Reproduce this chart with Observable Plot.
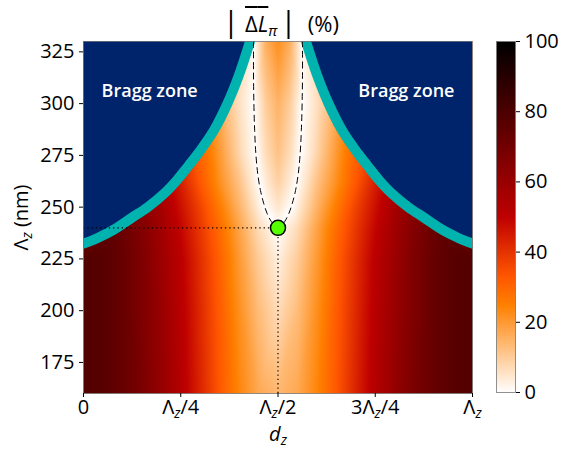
<!DOCTYPE html>
<html><head><meta charset="utf-8">
<script src="https://cdn.jsdelivr.net/npm/d3@7"></script>
<script src="https://cdn.jsdelivr.net/npm/@observablehq/plot@0.6"></script>
<style>
html,body{margin:0;padding:0;background:#fff;}
#wrap{position:relative;width:562px;height:449px;font-family:"Open Sans",sans-serif;overflow:hidden;color:#000}
#main{position:absolute;left:0;top:0}
#cbar{position:absolute;left:480px;top:0}
#title{position:absolute;top:0px;left:176px;width:210px;text-align:center;font-size:22px;line-height:47px;white-space:nowrap}
#title .bar{font-size:29px;line-height:20px}
#title .b1{margin-right:6px}
#title .b2{margin-left:3px}
#title .ov{text-decoration:overline;text-decoration-thickness:1.5px}
#title sub{font-size:15px;vertical-align:-4px;line-height:0}
</style></head><body>
<div id="wrap"><div id="main"></div><div id="cbar"></div>
<div id="title"><span class="bar b1">|</span><span class="ov">Δ<i>L</i></span><sub><i>π</i></sub><span class="bar b2">|</span>&nbsp;&nbsp;(%)</div>
</div>
<script>
// ---------- data ----------
const xTicks = [0, 0.25, 0.5, 0.75, 1];
const xTickLabels = ["0", "Λ_z/4", "Λ_z/2", "3Λ_z/4", "Λ_z"];
const yTicks = [175, 200, 225, 250, 275, 300, 325];
const cbTicks = [0, 20, 40, 60, 80, 100];

// Bragg zone boundary (Λz in nm vs d_z/Λz)
const braggY      = [232.4, 235, 239, 245, 250, 257, 263, 270, 276, 287, 300, 314, 330];
const braggLeftX  = [0, 0.035, 0.077, 0.125, 0.165, 0.21, 0.24, 0.27, 0.295, 0.335, 0.37, 0.40, 0.428];
const braggRightX = [1, 0.965, 0.923, 0.875, 0.835, 0.79, 0.76, 0.73, 0.705, 0.665, 0.63, 0.60, 0.572];

// zero contour (dashed)
const dashX = [0.437, 0.437, 0.438, 0.44, 0.443, 0.448, 0.455, 0.463, 0.472, 0.483, 0.495, 0.5,
               0.505, 0.517, 0.528, 0.537, 0.545, 0.552, 0.557, 0.56, 0.562, 0.563, 0.563];
const dashY = [330, 315, 300, 287, 276, 266, 258, 252, 247, 243, 240.5, 240,
               240.5, 243, 247, 252, 258, 266, 276, 287, 300, 315, 330];

// optimum point
const optX = [0.5];
const optY = [240];

// |ΔL| (%) sampled along rows of Λz
const heatRowY = [160, 200, 225, 240, 250, 262, 276, 300, 330];
const heatRowX = [
  [0,.05,.1,.15,.2,.25,.3,.35,.4,.45,.5,.55,.6,.65,.7,.75,.8,.85,.9,.95,1],
  [0,.05,.1,.15,.2,.25,.3,.35,.4,.45,.5,.55,.6,.65,.7,.75,.8,.85,.9,.95,1],
  [0,.05,.1,.15,.2,.25,.3,.35,.4,.45,.5,.55,.6,.65,.7,.75,.8,.85,.9,.95,1],
  [.08,.1,.15,.2,.25,.3,.35,.4,.45,.5,.55,.6,.65,.7,.75,.8,.85,.9,.92],
  [.16,.2,.25,.3,.35,.4,.43,.465,.5,.535,.57,.6,.65,.7,.75,.8,.84],
  [.23,.25,.3,.35,.4,.425,.452,.475,.5,.525,.548,.575,.6,.65,.7,.75,.77],
  [.29,.32,.35,.38,.41,.443,.47,.5,.53,.557,.59,.62,.65,.68,.71],
  [.37,.4,.438,.47,.5,.53,.562,.6,.63],
  [.425,.437,.47,.5,.53,.563,.575]
];
const heatRowV = [
  [78,77,73,68,61,53,43,33,24,17,14,17,24,33,43,53,61,68,73,77,78],
  [78,77,73,67,60,52,42,32,22,13,7,13,22,32,42,52,60,67,73,77,78],
  [78,77,73,67,59,51,41,31,20,10,3,10,20,31,41,51,59,67,73,77,78],
  [74,72,66,58,49,39,29,18,7,0,7,18,29,39,49,58,66,72,74],
  [62,57,47,37,26,15,8,0,5,0,8,15,26,37,47,57,62],
  [48,44,33,22,12,6,0,5,9,5,0,6,12,22,33,44,48],
  [32,27,20,13,6,0,7,12,7,0,6,13,20,27,32],
  [12,6,0,10,15,10,0,6,12],
  [4,0,16,22,16,0,4]
];

// ---------- tables ----------
const heat = heatRowY.flatMap((y, i) => heatRowX[i].map((x, j) => ({x, y, v: heatRowV[i][j]})));
const bragg = braggY.map((y, i) => ({y, xl: braggLeftX[i], xr: braggRightX[i]}));
const dash = dashX.map((x, i) => ({x, y: dashY[i]}));
const opt = optX.map((x, i) => ({x, y: optY[i]}));

const NAVY = "#00246b", TEAL = "#00b3ae";
const colorScale = {type: "linear", domain: [0, 25, 100/3, 50, 100],
  range: ["#ffffff", "#ff8000", "#ff5500", "#bf0000", "#000000"], interpolate: "rgb"};
const FS = 20;
const baseStyle = {fontFamily: "'Open Sans', sans-serif", fontSize: FS + "px", color: "black", background: "transparent", overflow: "visible"};

// rich text: *italic*, _x subscript (italic)
function rich(svg) {
  const ns = "http://www.w3.org/2000/svg";
  svg.querySelectorAll("text").forEach(t => {
    if (t.children.length) return;
    const s = t.textContent;
    if (!/[_*]/.test(s)) return;
    const base = parseFloat(getComputedStyle(t).fontSize) || FS;
    while (t.firstChild) t.removeChild(t.firstChild);
    let italic = false, buf = "", shift = 0;
    const flush = () => {
      if (!buf) return;
      const sp = document.createElementNS(ns, "tspan");
      sp.textContent = buf;
      if (italic) sp.setAttribute("font-style", "italic");
      if (shift) { sp.setAttribute("dy", -shift); shift = 0; }
      t.appendChild(sp); buf = "";
    };
    for (let k = 0; k < s.length; k++) {
      const c = s[k];
      if (c === "*") { flush(); italic = !italic; continue; }
      if (c === "_") {
        flush();
        const sp = document.createElementNS(ns, "tspan");
        sp.textContent = s[k + 1]; k++;
        sp.setAttribute("font-style", "italic");
        sp.setAttribute("font-size", base * 0.7);
        const d = base * 0.2;
        sp.setAttribute("dy", d); shift = d;
        t.appendChild(sp);
        continue;
      }
      buf += c;
    }
    flush();
  });
}

const main = Plot.plot({
  width: 480, height: 449,
  marginLeft: 83, marginRight: 8, marginTop: 41, marginBottom: 56,
  style: baseStyle,
  x: {domain: [0, 1]},
  y: {domain: [160, 330]},
  color: colorScale,
  marks: [
    Plot.raster(heat, {x: "x", y: "y", fill: "v", interpolate: "barycentric", x1: 0, x2: 1, y1: 160, y2: 330}),
    Plot.areaX(bragg, {y: "y", x1: 0, x2: "xl", fill: NAVY, curve: "catmull-rom", clip: true}),
    Plot.areaX(bragg, {y: "y", x1: "xr", x2: 1, fill: NAVY, curve: "catmull-rom", clip: true}),
    Plot.line(bragg, {x: "xl", y: "y", stroke: TEAL, strokeWidth: 10, curve: "catmull-rom", clip: true}),
    Plot.line(bragg, {x: "xr", y: "y", stroke: TEAL, strokeWidth: 10, curve: "catmull-rom", clip: true}),
    Plot.line(dash, {x: "x", y: "y", stroke: "black", strokeWidth: 1, strokeDasharray: "6,4.5", curve: "catmull-rom"}),
    Plot.ruleY(opt, {y: "y", x1: 0, x2: "x", stroke: "black", strokeWidth: 1.2, strokeDasharray: "1.3,3"}),
    Plot.ruleX(opt, {x: "x", y1: 160, y2: "y", stroke: "black", strokeWidth: 1.2, strokeDasharray: "1.3,3"}),
    Plot.dot(opt, {x: "x", y: "y", r: 7.5, fill: "#55ff00", stroke: "black", strokeWidth: 1.5}),
    Plot.text(["Bragg zone"], {x: 0.17, y: 306, fill: "white", fontWeight: 600, fontSize: 18}),
    Plot.text(["Bragg zone"], {x: 0.83, y: 306, fill: "white", fontWeight: 600, fontSize: 18}),
    Plot.frame({stroke: "#777", strokeWidth: 0.8}),
    Plot.axisX({ticks: xTicks, tickFormat: d => xTickLabels[xTicks.indexOf(d)], tickSize: 4, tickPadding: 2, label: null}),
    Plot.axisY({ticks: yTicks, tickSize: 4, tickPadding: 5, label: null}),
    Plot.text(["Λ_z (nm)"], {frameAnchor: "left", rotate: -90, dx: -62, textAnchor: "middle", lineAnchor: "middle", fontSize: FS}),
    Plot.text(["*d*_z"], {frameAnchor: "bottom", dy: 41, textAnchor: "middle", lineAnchor: "middle", fontSize: FS})
  ]
});
document.getElementById("main").appendChild(main);

const cbar = Plot.plot({
  width: 82, height: 449,
  marginLeft: 16, marginRight: 47, marginTop: 41, marginBottom: 57,
  style: baseStyle,
  x: {domain: [0, 1], axis: null},
  y: {domain: [0, 100]},
  color: colorScale,
  marks: [
    Plot.raster({fill: (x, y) => y, x1: 0, x2: 1, y1: 0, y2: 100}),
    Plot.frame({stroke: "#777", strokeWidth: 0.8}),
    Plot.axisY({anchor: "right", ticks: cbTicks, tickSize: 4, tickPadding: 5, label: null})
  ]
});
document.getElementById("cbar").appendChild(cbar);

rich(main);
rich(cbar);
</script>
</body></html>
